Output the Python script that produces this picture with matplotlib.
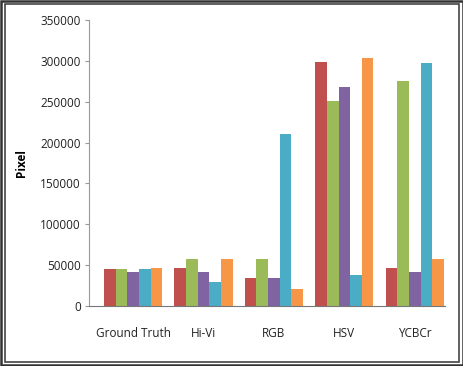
import matplotlib
matplotlib.use("Agg")
import matplotlib.pyplot as plt
from matplotlib.patches import Rectangle
import numpy as np

categories = ["Ground Truth", "Hi-Vi", "RGB", "HSV", "YCBCr"]
series1 = [45000, 47000, 34000, 298000, 47000]
series2 = [45500, 58000, 58000, 251000, 275000]
series3 = [42000, 42000, 34000, 268000, 42000]
series4 = [45500, 29000, 211000, 38000, 297000]
series5 = [47000, 57000, 21000, 304000, 57000]
yticks = [0, 50000, 100000, 150000, 200000, 250000, 300000, 350000]

colors = ["#C0504D", "#9BBB59", "#8064A2", "#4BACC6", "#F79646"]
data = [series1, series2, series3, series4, series5]

plt.rcParams['font.family'] = ['Open Sans', 'DejaVu Sans']
fig = plt.figure(figsize=(4.64, 3.66), dpi=100)
ax = fig.add_axes([89 / 464, 1 - 306 / 366, 356 / 464, 286 / 366])

x = np.arange(len(categories))
w = 0.165
for i, (vals, c) in enumerate(zip(data, colors)):
    ax.bar(x + (i - 2) * w, vals, width=w, color=c)

ax.set_xlim(-0.626, 4.43)
ax.set_ylim(0, 350000)
ax.set_yticks(yticks)
ax.set_yticklabels([str(v) for v in yticks], fontsize=8.5, color="#222222")
ax.set_xticks(x)
ax.set_xticklabels(categories, fontsize=8.5, color="#222222")
ax.tick_params(axis='x', length=0, pad=15)
ax.tick_params(axis='y', length=3, color="#999999", pad=3)
for s in ["top", "right"]:
    ax.spines[s].set_visible(False)
ax.spines["left"].set_color("#999999")
ax.spines["bottom"].set_color("#777777")
ax.set_ylabel("Pixel", fontsize=8.5, fontweight="bold")
ax.yaxis.set_label_coords(-0.171, 0.5)

fig.patches.append(Rectangle((0.002, 0.003), 0.996, 0.994, transform=fig.transFigure,
                             fill=False, edgecolor="#333333", linewidth=1.8))
fig.patches.append(Rectangle((0.010, 0.012), 0.980, 0.976, transform=fig.transFigure,
                             fill=False, edgecolor="#444444", linewidth=1.2))

fig.savefig("out.png", dpi=100)
